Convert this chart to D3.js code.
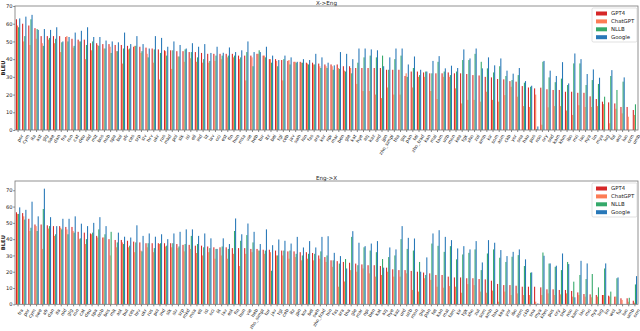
<!DOCTYPE html>
<meta charset="utf-8">
<script src="https://d3js.org/d3.v7.min.js"></script>
<style>
  body { margin: 0; background: #fff; }
  text { font-family: "DejaVu Sans", sans-serif; }
</style>
<div id="chart"></div>
<script>
// series names and colours
const series = ["GPT4", "ChatGPT", "NLLB", "Google"];
const colors = ["#d62728", "#fc7c55", "#35a96a", "#2878b8"];

// X->Eng
const topLangs = ["por","cym","ita","ast","glg","swe","dan","fra","ron","cat","deu","nld","mlt","bos","nob","spa","bul","afr","ces","srp","slv","hrv","ukr","rus","mkd","pol","slk","isl","ell","ind","lit","lav","oci","est","fin","hun","msa","vie","heb","tur","ltz","bel","tgl","ceb","jav","swh","hin","fas","ara","kor","npi","mar","ben","gle","kat","hye","azj","kaz","urd","jpn","zho_simpl","tha","guj","pan","tel","zho_trad","kan","mal","tam","uzb","mon","kea","tgk","xho","zul","amh","kir","som","asm","ckb","yor","sna","hau","pus","nso","ory","snd","kam","khm","ibo","mri","lao","nya","lin","mya","lug","ful","wol","luo","orm","umb"];
const topGPT4 = [62.5,60,59,57.5,53,53,53,53,52.5,51.5,51,51,49,49,48.5,48.5,48,48,47.5,47,47,46.5,46,45.5,45,45,44.5,44.5,44,44,43.5,43,43,
  43,43,43,42,42,42,43,42,40,40,39.5,39,38.5,38.5,38,38,37.5,37,37,37,36,36,35,35,35,35,35,34,34,34,30.5,33,33,32.5,32,
  32,32,32.5,32,32,31.6,31,30.8,30,29.7,28.8,28.6,27.6,27.3,24.8,24,23.5,23.9,23,22.6,22.6,21.6,21.6,21,21,19,17.5,16,15.6,15,13,13,11.3];
const topChatGPT = [59,50,48,51.5,49,51,49,44,53,46.5,50,40,45,48,46,47,44.5,37.5,45.5,47.5,43.5,43,38,28.5,44.5,34.5,41.5,38.5,40.5,38.5,38,38,39,
  40,41,41,40,28,41,43,42,40,39,28,39.5,38.5,38,37.5,37,36,36,36,35,33.5,35,26,22,22,20,18,24,20,20,32,24,30,30,22,
  17.5,30,30,23.5,15,17,17,16,21.6,17,16,19.7,24.4,18.8,13.5,13,20,3,12.8,13.5,13.5,11,8.5,14,13,13,13.5,14.6,3.8,12,9.4,7.5,8.5];
const topNLLB = [58,53,62.5,57,47.5,52,51.5,49.5,50,47.5,50,48,50,47.5,46,43.5,44.5,46,46,47.5,44.5,41,45.5,43.5,42,45,41.5,45.5,44,41,40,39,42,
  42,42,42,41,44,36,45,41,38,36,40,37,38,38,37,37,35,35,34,34.5,33,32,38,41,42,41,42,34,40,42,30,35,31,33,32,
  38.5,33,31,33,39.5,39.5,43,38.5,34.8,32.5,36,30.5,28.2,31,26.7,24.4,0.5,38.5,29.7,27,29,25.4,37.6,37.6,25.4,28.2,26,18.8,30.5,22.6,27.3,0,14.5];
const topGoogle = [63,64,65,56.5,57,56.5,58,50,52.5,55,56,58,52.5,52.5,50.5,50,49.5,55,48.5,53,48.5,46,53,52,47,50,48,46,49,47,48.5,43.5,47,
  43.6,46.6,44,45,50,44,44,47,42,39.5,42,41,38.5,40,39.5,43,41,38,36.5,44,43,40,46,46,45.5,45,36,41,46,46,37,41.5,34,33,39,
  41.7,34.8,36.3,35,45.5,40.4,46,34.8,41,36.5,40.4,33.5,31.8,35,27.6,25,2,39,33.5,30.5,38.3,26.3,43.2,40,31.6,34.2,29.5,0,33.8,0,29.7,0,0];

// Eng->X
const botLangs = ["fra","por","cym","swe","afr","dan","ita","nld","glg","ron","cat","deu","spa","nob","bos","mlt","ast","bul","ces","hrv","ukr","rus","pol","ind","slk","slv","srp","mkd","msa","ell","isl","oci","lit","lav","est","fin","hun","vie","heb","zho_simpl","tur","jav","tgl","ceb","ltz","jpn","kor","bel","swh","zho_trad","hin","fas","ara","tha","gle","mar","npi","ben","kat","azj","hye","kaz","urd","uzb","mon","guj","pan","tel","kan","mal","tam","kir","tgk","xho","zul","som","amh","hau","kea","yor","ibo","asm","ckb","sna","mya","khm","pus","ory","snd","nso","kam","lao","mri","nya","lug","lin","wol","ful","luo","umb","orm"];
const botGPT4 = [56.5,56,52.5,49,49,48.5,48,48,47.5,47.5,44.5,44,43.5,42,41,40,39.5,39.5,39,38.5,38,37.5,37.5,37.5,37.5,37.5,37,36.5,36.5,36,36,35.5,35,
  35,35,34.5,34.5,34.5,34,34,33.5,33.5,33,33,32.5,32.5,32,32,31.5,30,29,27,26.5,26,25.5,25,24.5,24,24,23.5,22.5,21.5,21,21,20.5,20,19.5,
  19,18,18,17,16.5,16.5,16,16,15.5,15.3,14.5,12.5,11.8,11.8,11.4,10.8,10.8,10.8,10.4,9.2,9.2,8.8,8.8,8.2,7.3,6.3,6.1,5.7,5.7,5.3,4.7,3.7,3.7,2.2];
const botChatGPT = [55.5,54,45,48,34,46.5,42,47,46,45,40,37,43,41,41,30,35,38,35,32,33,35,32,37,35.5,35,34.5,32.5,34,31.5,30,32,28,
  30,28,31,23.5,31,32,33,31,32,30,30,28,29,27,28,27,28,26,23,10.8,14,21,20,22,19,17,18,20,17,17,19,8.8,7.8,16,
  15,10.8,10.2,11.2,10.8,7.1,12.4,11.8,7.8,7.1,8.4,1.6,7.8,5.7,6.7,5.7,5.7,1.6,5.7,6.7,5.7,6.1,6.7,4.7,5.7,4.7,4.3,4.7,5.7,4.7,4.7,2.7,1.6,1];
const botNLLB = [55.5,52,47,45,58.5,48,43,46,43,44,40.5,40,44,46,43,44.5,38,37,36,38,32.5,37.5,34.5,37.5,36,37.5,35.5,37,42,37,35,34.5,34,
  35.5,34,45,39,42.5,38,33,33,20.6,30,33,33,31,30,31,31,32.5,30,27,25,27.8,41.4,24,35,33,32,27.8,29,30,40,34,33,26,18,
  37.3,35.9,32.2,35.7,27.6,30.6,31.6,33.7,21,31.2,33.7,28.6,26,29.2,30.2,23.5,19.4,0,31.8,25,23,21,26,13.9,18,15.5,18.6,10.4,22,7.8,16,0,4,12.2];
const botGoogle = [59.5,58,63,54,71,53.5,48,52.5,52.5,54,49.5,48,50,53.5,48,0,44,41.5,41,48.5,42,43.5,41.5,43,40,43.5,44.5,46,46,42,43.5,40.5,34,
  40.5,37,52.7,43,49.6,44.5,37,46,36.3,39.8,39,37.3,41.4,34.9,38.8,34.9,41.4,41.8,31.6,29.6,22,44.9,37.8,35.7,37.3,38.8,22.5,34.9,33.7,48,40.8,40.4,20,28.8,
  43.5,45.5,41.4,39.4,34.3,35.7,33.7,38.8,25.7,39.4,37.8,33.3,29.6,32.2,33.7,27.6,19.6,0.5,29.8,25.1,23.7,31.2,24.7,4.3,26.7,25.1,0,0,25.1,0,16.5,0,0,17.3];

const yTicks = [0, 10, 20, 30, 40, 50, 60, 70];

const svg = d3.select("#chart").append("svg")
  .attr("width", 640).attr("height", 331);

function panel(title, langs, values, top, bottom, ymax) {
  const left = 15, right = 638;
  const x = d3.scaleBand().domain(langs).range([left, right]).paddingInner(0.3).paddingOuter(0.15);
  const xs = d3.scaleBand().domain(series).range([0, x.bandwidth()]);
  const y = d3.scaleLinear().domain([0, ymax]).range([bottom, top]);

  const g = svg.append("g");

  // bars
  series.forEach(function(s, si) {
    g.append("g").selectAll("rect")
      .data(langs.map(function(l, i) { return {lang: l, v: values[si][i]}; }))
      .join("rect")
        .attr("x", function(d) { return x(d.lang) + xs(s); })
        .attr("y", function(d) { return y(d.v); })
        .attr("width", xs.bandwidth())
        .attr("height", function(d) { return y(0) - y(d.v); })
        .attr("fill", colors[si]);
  });

  // y axis
  const ya = g.append("g")
    .attr("transform", `translate(${left},0)`)
    .call(d3.axisLeft(y).tickValues(yTicks).tickSize(1.8).tickPadding(0.6));
  ya.select(".domain").remove();
  ya.selectAll("text").style("font-size", "5.2px").attr("fill", "#222");
  ya.selectAll("line").attr("stroke", "#333").attr("stroke-width", 0.6);

  // x axis
  const xa = g.append("g")
    .attr("transform", `translate(0,${bottom})`)
    .call(d3.axisBottom(x).tickSize(2).tickPadding(1));
  xa.select(".domain").remove();
  xa.selectAll("line").attr("stroke", "#333").attr("stroke-width", 0.6);
  xa.selectAll("text")
    .style("font-size", "4.6px").attr("fill", "#222")
    .attr("text-anchor", "end")
    .attr("dy", "0.5em").attr("dx", "0")
    .attr("transform", "translate(1,3) rotate(-58)");

  // frame
  g.append("rect")
    .attr("x", left).attr("y", top)
    .attr("width", right - left).attr("height", bottom - top)
    .attr("fill", "none").attr("stroke", "#777").attr("stroke-width", 0.8);

  g.append("text")
    .attr("x", (left + right) / 2).attr("y", top - 1.5)
    .attr("text-anchor", "middle")
    .style("font-size", "5.6px").attr("fill", "#222")
    .text(title);

  g.append("text")
    .attr("transform", `translate(4.6,${(top + bottom) / 2}) rotate(-90)`)
    .attr("text-anchor", "middle")
    .style("font-size", "5.2px").style("font-weight", "bold").attr("fill", "#222")
    .text("BLEU");

  // legend
  const lg = g.append("g").attr("transform", `translate(592,${top + 2})`);
  lg.append("rect")
    .attr("width", 45).attr("height", 34).attr("rx", 1.5)
    .attr("fill", "#fff").attr("stroke", "#ccc").attr("stroke-width", 0.6);
  series.forEach(function(s, i) {
    lg.append("rect")
      .attr("x", 4).attr("y", 3.5 + i * 7.9)
      .attr("width", 11).attr("height", 4)
      .attr("fill", colors[i]);
    lg.append("text")
      .attr("x", 19).attr("y", 7.3 + i * 7.9)
      .style("font-size", "5.4px").attr("fill", "#222")
      .text(s);
  });
}

panel("X->Eng", topLangs, [topGPT4, topChatGPT, topNLLB, topGoogle], 6, 130, 70);
panel("Eng->X", botLangs, [botGPT4, botChatGPT, botNLLB, botGoogle], 181, 304.3, 75.7);
</script>
